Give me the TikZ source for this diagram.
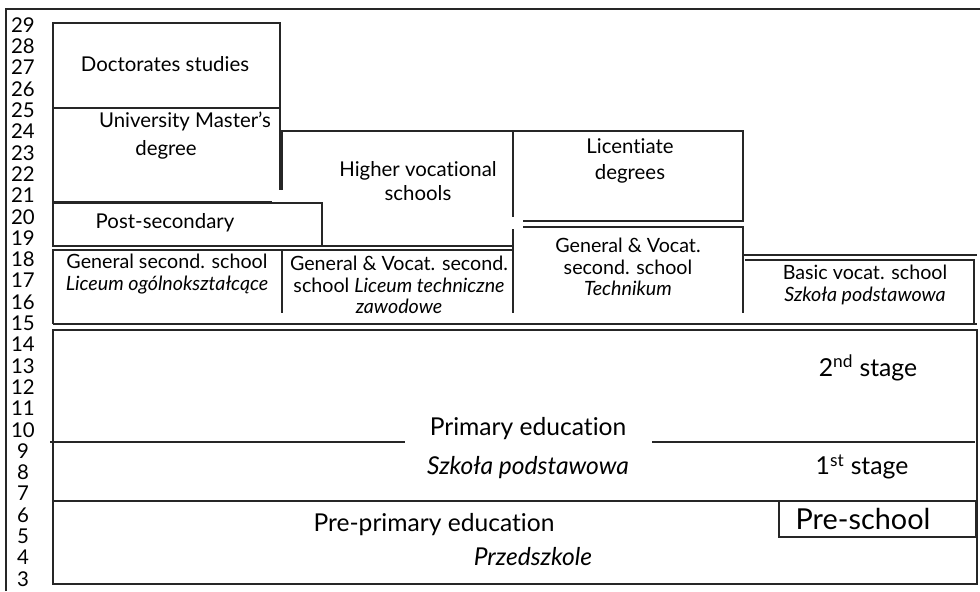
\documentclass[tikz,border=0pt]{standalone}
\usepackage{fontspec}
\setmainfont{Lato}[Ligatures=NoCommon]
\usetikzlibrary{positioning}

\tikzset{
    box/.style={line width=0.8pt, black!85},
    txt/.style={font=\fontsize{14.5}{17}\selectfont, align=center, inner sep=0pt},
    small/.style={font=\fontsize{14}{15.4}\selectfont, align=center, inner sep=0pt},
    big/.style={font=\fontsize{17.5}{27.5}\selectfont, align=center, inner sep=0pt},
    mid/.style={font=\fontsize{17.6}{19}\selectfont, inner sep=0pt},
    age/.style={font=\fontsize{14.5}{17}\selectfont, inner sep=0pt}
}

\begin{document}
\begin{tikzpicture}[x=0.25mm, y=-0.25mm]

\useasboundingbox (0,0) rectangle (980,591);

% Frame
\draw[box, line width=1.1pt] (6,591) -- (6,9) -- (980,9);

% Age scale
\foreach \n in {3,...,29}
    \node[age] (a\n) at (23,{25+(29-\n)*21.3}) {\n};

% Doctorates
\draw[box] (53,23) rectangle (280,108);
\node[txt] (doc) at (165,64) {Doctorates studies};

% University Master's
\draw[box] (53,108) -- (53,202) -- (272,202);
\draw[box] (280,108) -- (280,190);
\node[txt] (mas) at (185,121) {University Master’s};
\node[txt, anchor=base] (deg) at (166,155) {degree};

% Higher vocational
\draw[box] (282,190) -- (282,131) -- (513,131) -- (513,217);
\node[txt] (hvs) at (418,181) {Higher vocational\\schools};

% Licentiate
\draw[box] (513,131) -- (743,131) -- (743,221) -- (523,221);
\node[txt, font=\fontsize{14.5}{19}\selectfont] (lic) at (630,161) {Licentiate\\degrees};

% Post-secondary
\draw[box] (53,203) rectangle (322,246);
\draw[box] (322,246) -- (513,246);
\node[txt] (pst) at (165,223) {Post-secondary};

% Secondary schools
\draw[box] (53,324) -- (53,250) -- (513,250);
\draw[box] (282,250) -- (282,313);
\draw[box] (513,229) -- (513,313);
\draw[box] (523,227) -- (743,227) -- (743,313);
\draw[box] (743,255) -- (977,255);
\draw[box] (745,260) -- (974,260) -- (974,324);
\draw[box] (53,324) -- (977,324);
\node[small] (gen) at (167,274) {General second. school\\\textit{Liceum ogólnokształcące}};
\node[small] (gvs) at (399,285) {General \& Vocat. second.\\school \textit{Liceum techniczne}\\\textit{zawodowe}};
\node[small] (tech) at (628,267) {General \& Vocat.\\second. school\\\textit{Technikum}};
\node[small] (bvs) at (865,285) {Basic vocat. school\\\textit{Szkoła podstawowa}};

% Primary
\draw[box] (53,330) rectangle (977,501);
\draw[box] (50,442) -- (405,442);
\draw[box] (652,442) -- (975,442);
\node[big] (prim) at (528,448) {Primary education\\\textit{Szkoła podstawowa}};
\node[mid] (st2) at (868,368) {2\textsuperscript{nd} stage};
\node[mid] (st1) at (862,467) {1\textsuperscript{st} stage};

% Pre-primary
\draw[box] (53,501) rectangle (977,584);
\draw[box] (779,501) rectangle (976,537);
\node[big] (pre) at (434,525) {Pre-primary education};
\node[big] (prz) at (533,557) {\textit{Przedszkole}};
\node[mid, font=\fontsize{20.5}{22}\selectfont] (psc) at (863,519) {Pre-school};

\end{tikzpicture}
\end{document}
